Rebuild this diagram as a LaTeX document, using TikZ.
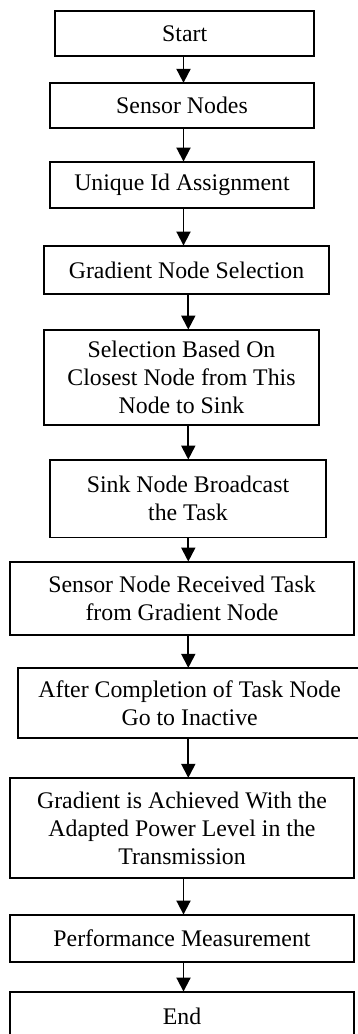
\documentclass[tikz,border=0pt]{standalone}
\usepackage{fontspec}
\setmainfont{Liberation Serif}
\usetikzlibrary{arrows.meta}
\begin{document}
\begin{tikzpicture}[x=1pt,y=-1pt,
  box/.style={draw=black, line width=1.9pt, rectangle, inner sep=0pt,
    align=center, font=\fontsize{23.8}{28}\selectfont},
  arr/.style={line width=1.9pt, -{Triangle[length=14pt,width=14pt]}, shorten >=-0.5pt}]
\useasboundingbox (0,0) rectangle (358,1034);
\fill[white] (0,0) rectangle (358,1034);
\coordinate (c1) at (183.5,0);
\coordinate (c2) at (188.3,0);
\node[box, minimum width=258.7pt, minimum height=45pt] (start) at (184.65,33.5) {Start};
\node[box, minimum width=264pt, minimum height=44.7pt] (sensor) at (182,105.65) {Sensor Nodes};
\node[box, minimum width=264pt, minimum height=46.3pt] (unique) at (182,185.15) {Unique Id Assignment};
\node[box, minimum width=285pt, minimum height=48pt] (gns) at (186.5,270) {Gradient Node Selection};
\node[box, minimum width=275pt, minimum height=95pt] (sel) at (181.5,377.5) {Selection Based On\\Closest Node from This\\Node to Sink};
\node[box, minimum width=276pt, minimum height=77.5pt] (sink) at (188,498.75) {Sink Node Broadcast\\the Task};
\node[box, minimum width=344pt, minimum height=73pt] (snr) at (182,598.5) {Sensor Node Received Task\\from Gradient Node};
\node[box, minimum width=342.7pt, minimum height=70pt] (after) at (189.65,703.3) {After Completion of Task Node\\Go to Inactive};
\node[box, minimum width=344pt, minimum height=100pt] (grad) at (182,828.3) {Gradient is Achieved With the\\Adapted Power Level in the\\Transmission};
\node[box, minimum width=344pt, minimum height=47pt] (perf) at (182,938.5) {Performance Measurement};
\node[box, minimum width=344pt, minimum height=48pt] (end) at (182,1016) {End};
\draw[arr] (start.south -| c1) -- (sensor.north -| c1);
\draw[arr] (sensor.south -| c1) -- (unique.north -| c1);
\draw[arr] (unique.south -| c1) -- (gns.north -| c1);
\draw[arr] (gns.south -| c2) -- (sel.north -| c2);
\draw[arr] (sel.south -| c2) -- (sink.north -| c2);
\draw[arr] (sink.south -| c2) -- (snr.north -| c2);
\draw[arr] (snr.south -| c2) -- (after.north -| c2);
\draw[arr] (after.south -| c2) -- (grad.north -| c2);
\draw[arr] (grad.south -| c1) -- (perf.north -| c1);
\draw[arr] (perf.south -| c1) -- (end.north -| c1);
\end{tikzpicture}
\end{document}
